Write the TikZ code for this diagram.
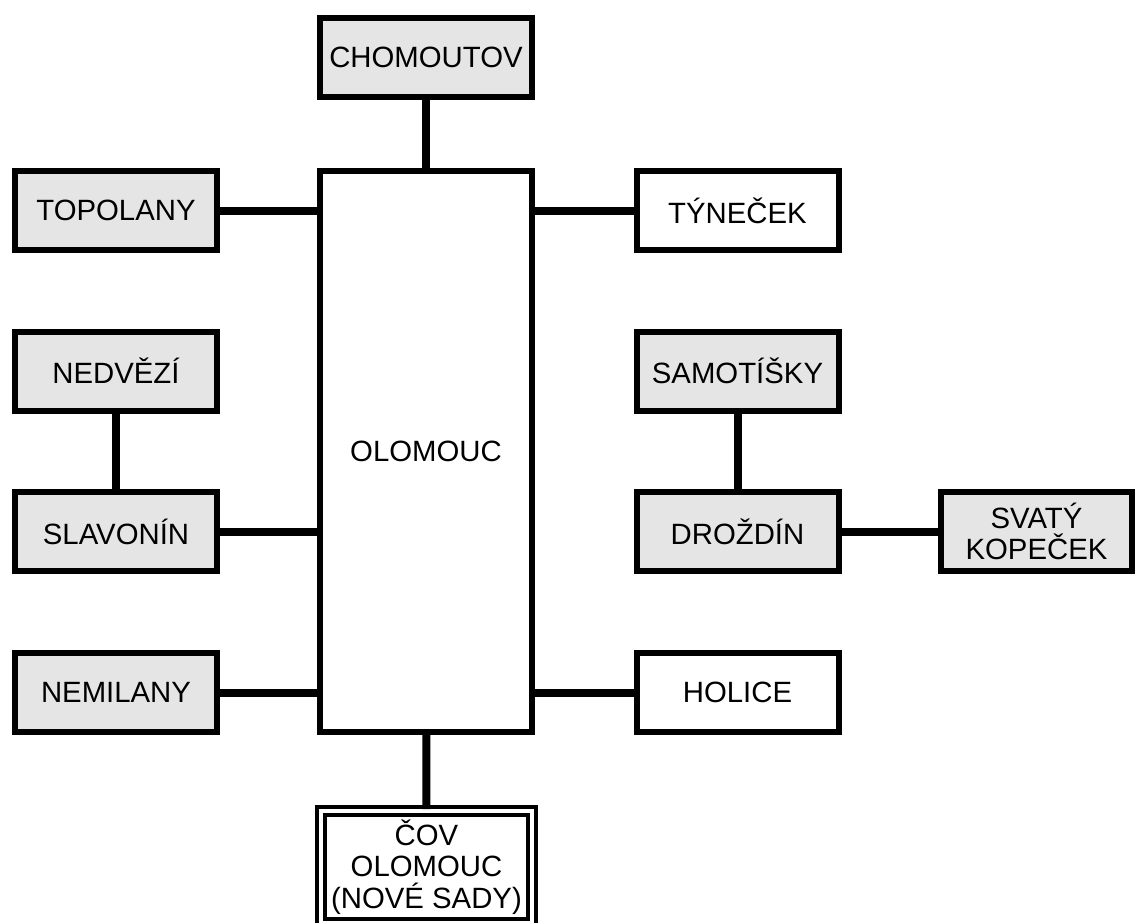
\documentclass[tikz,border=0pt]{standalone}
\usepackage{fontspec}
\setmainfont{Liberation Sans}
\usepackage{tikz}
\usetikzlibrary{positioning,calc}

\begin{document}
\begin{tikzpicture}[
    x=0.75pt, y=-0.75pt,
    place/.style={rectangle, draw=black, line width=4.5pt, inner sep=0pt, minimum width=151.5pt, minimum height=59.25pt, fill=#1, align=center, font=\fontsize{22}{23.5}\selectfont},
    place/.default=black!10,
    plant/.style={rectangle, draw=black, double=white, line width=3pt, double distance=3pt, inner sep=0pt, minimum width=158.25pt, minimum height=84pt, fill=white, align=center, font=\fontsize{22}{23.5}\selectfont},
    link/.style={line width=6pt, color=black}
]
    \clip (0,0) rectangle (1136,922);

    % centre
    \node[place=white, minimum width=159pt, minimum height=420.75pt] (olomouc) at (426,451.5) {OLOMOUC};
    \node[place, minimum width=159pt] (chomoutov) at (426,57.5) {CHOMOUTOV};
    \node[plant] (cov) at (426.5,867) {ČOV\\OLOMOUC\\(NOVÉ SADY)};

    % left column
    \node[place] (topolany) at (116,210.5) {TOPOLANY};
    \node[place] (nedvezi) at (116,371) {NEDVĚZÍ};
    \node[place] (slavonin) at (116,531.5) {SLAVONÍN};
    \node[place] (nemilany) at (116,692.5) {NEMILANY};

    % right column
    \node[place=white] (tynecek) at (737.5,210.5) {TÝNEČEK};
    \node[place] (samotisky) at (737.5,371) {SAMOTÍŠKY};
    \node[place] (drozdin) at (737.5,531.5) {DROŽDÍN};
    \node[place=white] (holice) at (737.5,692.5) {HOLICE};
    \node[place, minimum width=143.25pt] (kopecek) at (1036.5,531.5) {SVATÝ\\KOPEČEK};

    % Connections
    \draw[link] (chomoutov) -- (olomouc);
    \draw[link] (olomouc) -- (cov);
    \draw[link] (topolany.east) -- (topolany.east -| olomouc.west);
    \draw[link] (slavonin.east) -- (slavonin.east -| olomouc.west);
    \draw[link] (nemilany.east) -- (nemilany.east -| olomouc.west);
    \draw[link] (nedvezi) -- (slavonin);
    \draw[link] (tynecek.west) -- (tynecek.west -| olomouc.east);
    \draw[link] (holice.west) -- (holice.west -| olomouc.east);
    \draw[link] (samotisky) -- (drozdin);
    \draw[link] (drozdin) -- (kopecek);

\end{tikzpicture}
\end{document}
